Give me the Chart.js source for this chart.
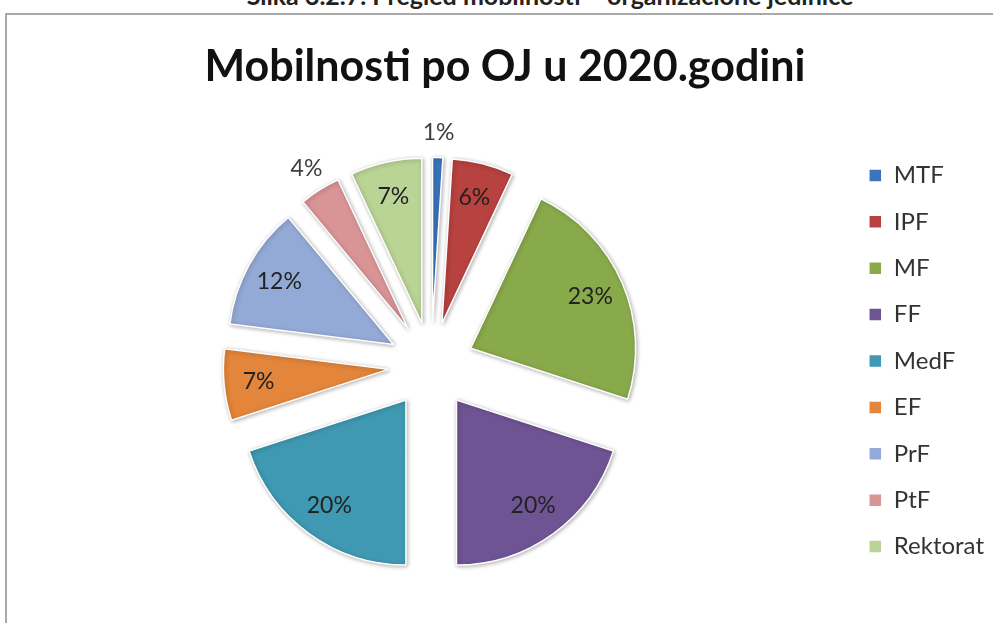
<!DOCTYPE html>
<html>
<head>
<meta charset="utf-8">
<title>Mobilnosti po OJ u 2020.godini</title>
<script src="https://cdn.jsdelivr.net/npm/chart.js@4.4.0/dist/chart.umd.min.js"></script>
<style>
    html, body {
        margin: 0;
        padding: 0;
        background: #fff;
        width: 993px;
        height: 623px;
        overflow: hidden;
        position: relative;
    }
    #caption {
        position: absolute;
        left: 0;
        top: -20px;
        width: 1100px;
        text-align: center;
        font: bold 25px Lato, sans-serif;
        color: #222;
        white-space: nowrap;
    }
    #frame {
        position: absolute;
        left: 5px;
        top: 13px;
        width: 1100px;
        height: 700px;
        border: 2px solid #a9a9a9;
        box-sizing: border-box;
    }
    #pieChart {
        position: absolute;
        left: 0;
        top: 0;
    }
</style>
</head>
<body>
<div id="caption">Slika 3.2.7. Pregled mobilnosti – organizacione jedinice</div>
<div id="frame"></div>
<canvas id="pieChart" width="1046" height="680"></canvas>
<script>
// Data
const units = ['MTF', 'IPF', 'MF', 'FF', 'MedF', 'EF', 'PrF', 'PtF', 'Rektorat'];
const shares = [1, 6, 23, 20, 20, 7, 12, 4, 7];
const sliceColors = [
    '#3a74bb', '#b7423f', '#89aa4b', '#6f5494', '#3f99b2',
    '#e3853a', '#94aad6', '#d99496', '#bad496'
];

const EXPLODE = 43;      // how far every slice is pulled out of the centre
const PIE_RADIUS = 165;

// exploded pie: shift each arc along its mid angle and give it a soft shadow
const baseArcDraw = Chart.ArcElement.prototype.draw;
Chart.ArcElement.prototype.draw = function (ctx) {
    const mid = (this.startAngle + this.endAngle) / 2;
    ctx.save();
    ctx.translate(Math.cos(mid) * EXPLODE, Math.sin(mid) * EXPLODE);
    ctx.shadowColor = 'rgba(0, 0, 0, 0.3)';
    ctx.shadowBlur = 4;
    ctx.shadowOffsetX = 1;
    ctx.shadowOffsetY = 1;
    baseArcDraw.call(this, ctx);
    ctx.restore();
};

// percentage labels, small slices get theirs outside
const sliceLabels = {
    id: 'sliceLabels',
    afterDatasetsDraw(chart) {
        const ctx = chart.ctx;
        const meta = chart.getDatasetMeta(0);
        ctx.save();
        ctx.font = '23px Lato, sans-serif';
        ctx.textAlign = 'center';
        ctx.textBaseline = 'middle';
        meta.data.forEach((arc, i) => {
            const mid = (arc.startAngle + arc.endAngle) / 2;
            const outside = shares[i] < 5;
            const r = EXPLODE + arc.outerRadius * (outside ? 1.15 : 0.79);
            ctx.fillStyle = outside ? '#404040' : '#222';
            ctx.fillText(shares[i] + '%', arc.x + Math.cos(mid) * r, arc.y + Math.sin(mid) * r);
        });
        ctx.restore();
    }
};

const ctx = document.getElementById('pieChart').getContext('2d');
const chart = new Chart(ctx, {
    type: 'pie',
    data: {
        labels: units,
        datasets: [{
            data: shares,
            backgroundColor: sliceColors,
            borderColor: '#ffffff',
            borderWidth: 1.5,
            radius: PIE_RADIUS,
            hoverOffset: 0
        }]
    },
    options: {
        responsive: false,
        devicePixelRatio: 1,
        animation: false,
        events: [],
        layout: {
            padding: { left: 16, right: 52, top: 63, bottom: 21 }
        },
        plugins: {
            title: {
                display: true,
                text: 'Mobilnosti po OJ u 2020.godini',
                color: '#111',
                font: { family: 'Lato, sans-serif', size: 43, weight: 'bold', lineHeight: 0.2 },
                padding: 0
            },
            legend: {
                position: 'right',
                labels: {
                    color: '#333',
                    font: { family: 'Lato, sans-serif', size: 24 },
                    boxWidth: 13,
                    boxHeight: 13,
                    padding: 22.4
                }
            },
            tooltip: { enabled: false }
        }
    },
    plugins: [sliceLabels]
});
</script>
</body>
</html>
